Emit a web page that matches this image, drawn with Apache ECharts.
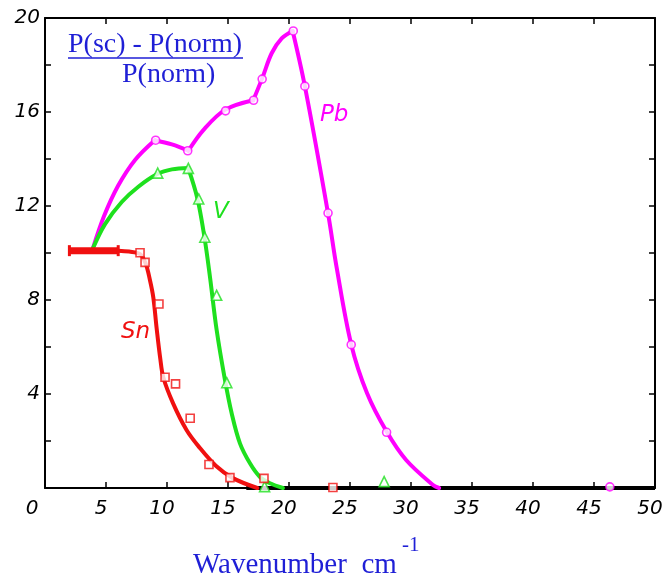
<!DOCTYPE html>
<html><head><meta charset="utf-8">
<script src="https://cdn.jsdelivr.net/npm/echarts@6.0.0/dist/echarts.min.js"></script>
<style>html,body{margin:0;padding:0;background:#fff}#c{width:668px;height:584px}</style>
</head><body><div id="c"></div>
<script>
// ---- data ----
const xTickLabels = [0,5,10,15,20,25,30,35,40,45,50];
const yTickLabels = [4,8,12,16,20];

// Pb (magenta, circles) - drawn curve, split at its corners
const pbCurveA = [[3.93,10.2],[4.84,11.57],[5.98,12.85],[7.38,13.96],[9.0,14.8]];
const pbCurveB = [[9.0,14.8],[10.4,14.62],[11.75,14.35]];
const pbCurveC = [[11.75,14.35],[12.98,15.23],[14.75,16.09],[17.07,16.5]];
const pbCurveD = [[17.07,16.5],[17.8,17.43],[18.58,18.5],[19.4,19.13],[20.3,19.45]];
const pbCurveE = [[20.3,19.45],[21.3,17.1],[23.2,11.69],[23.9,9.4],[25.1,6.11],[26.4,4.03],[28.0,2.4],[29.6,1.19],[31.8,0.13],[32.3,0]];
const pbPoints = [[9.07,14.8],[11.7,14.35],[14.8,16.05],[17.1,16.5],[17.8,17.4],[20.35,19.45],[21.3,17.1],[23.2,11.7],[25.1,6.1],[28.0,2.37],[31.1,-0.05],[46.3,0.05]];

// V (green, triangles)
const vCurveRise = [[3.93,10.2],[4.92,11.23],[6.29,12.17],[7.65,12.82],[9.24,13.37],[10.4,13.56],[11.74,13.62]];
const vCurveFall = [[11.74,13.62],[12.5,12.3],[13.06,10.7],[13.52,8.99],[14.07,6.72],[14.75,4.6],[15.3,3.18],[15.98,1.9],[16.8,1.05],[17.6,0.48],[18.44,0.2],[19.5,0]];
const vPoints = [[9.24,13.4],[11.75,13.6],[12.6,12.3],[13.1,10.67],[14.07,8.2],[14.9,4.48],[18.0,0.06],[27.8,0.27]];

// Sn (red, squares)
const snPlateau = [[2.0,10.1],[6.0,10.1]];
const snCurve = [[6.0,10.1],[6.9,10.06],[7.79,9.95],[8.25,9.55],[8.6,8.85],[8.88,8.1],[9.15,6.8],[9.45,5.5],[9.7,4.7],[10.5,3.6],[11.6,2.47],[12.7,1.7],[14.0,0.95],[15.4,0.42],[17.4,0]];
const snPoints = [[7.79,10.01],[8.2,9.6],[9.34,7.83],[9.84,4.71],[10.7,4.43],[11.9,2.97],[13.44,1.0],[15.16,0.44],[17.95,0.41],[23.6,0.02]];

const zeroBase = [[16.5,0],[50,0]];

const C_PB = '#ff00ff', C_V = '#1ee01e', C_SN = '#f01010', C_BLUE = '#1f1fd6';
const tickFont = {fontFamily:'DejaVu Sans', fontStyle:'italic', fontSize:20, color:'#000'};

const chart = echarts.init(document.getElementById('c'), null, {renderer:'canvas'});
function lineS(data, color) {
  return {type:'line', data, smooth:0.35, showSymbol:false, symbol:'none', z:2,
    lineStyle:{color, width:4, cap:'round', join:'round'}, silent:true};
}
function markS(data, color, sym, size) {
  return {type:'scatter', data, symbol:sym, symbolSize:size, z:5, silent:true,
    itemStyle:{color:'#fff', borderColor:color, borderWidth:1.6}};
}
chart.setOption({
  animation:false,
  backgroundColor:'#fff',
  grid:{left:45, right:13, top:18, bottom:96},
  xAxis:[
    {type:'value', min:0, max:50, interval:5, position:'bottom',
     axisLine:{onZero:false, lineStyle:{color:'#000', width:2}},
     axisTick:{inside:true, length:6, lineStyle:{color:'#000', width:1.5}},
     splitLine:{show:false},
     axisLabel:Object.assign({margin:11, padding:[0,10,0,0],
       formatter:v => xTickLabels.includes(v) ? (v === 0 ? '{z|0}' : String(v)) : '',
       rich:{z:{fontFamily:'DejaVu Sans', fontStyle:'italic', fontSize:20, color:'#000', padding:[0,16,0,0]}}}, tickFont)},
    {type:'value', min:0, max:50, interval:5, position:'top',
     axisLine:{onZero:false, lineStyle:{color:'#000', width:2}},
     axisTick:{inside:true, length:6, lineStyle:{color:'#000', width:1.5}},
     splitLine:{show:false}, axisLabel:{show:false}}
  ],
  yAxis:[
    {type:'value', min:0, max:20, interval:2, position:'left',
     axisLine:{onZero:false, lineStyle:{color:'#000', width:2}},
     axisTick:{inside:true, length:6, lineStyle:{color:'#000', width:1.5}},
     splitLine:{show:false},
     axisLabel:Object.assign({margin:5,
       formatter:v => yTickLabels.includes(v) ? String(v) : ''}, tickFont)},
    {type:'value', min:0, max:20, interval:2, position:'right',
     axisLine:{onZero:false, lineStyle:{color:'#000', width:2}},
     axisTick:{inside:true, length:6, lineStyle:{color:'#000', width:1.5}},
     splitLine:{show:false}, axisLabel:{show:false}}
  ],
  series:[
    {type:'line', data:zeroBase, symbol:'none', lineStyle:{color:'#000', width:4}, z:1, silent:true},
    lineS(pbCurveA, C_PB), lineS(pbCurveB, C_PB), lineS(pbCurveC, C_PB),
    lineS(pbCurveD, C_PB), lineS(pbCurveE, C_PB),
    lineS(vCurveRise, C_V), lineS(vCurveFall, C_V),
    lineS(snCurve, C_SN),
    {type:'line', data:snPlateau, symbol:'rect', symbolSize:[3,11], showSymbol:true, z:3, silent:true,
     lineStyle:{color:C_SN, width:7}, itemStyle:{color:C_SN}},
    markS(pbPoints, C_PB, 'circle', 8),
    markS(vPoints, C_V, 'triangle', 10),
    markS(snPoints, C_SN, 'rect', 8)
  ],
  graphic:[
    {type:'text', left:68, top:31, style:{text:'P(sc) - P(norm)', font:'28px "Liberation Serif"', fill:C_BLUE}},
    {type:'line', shape:{x1:68, y1:58, x2:243, y2:58}, style:{stroke:C_BLUE, lineWidth:1.5}},
    {type:'text', left:122, top:61, style:{text:'P(norm)', font:'28px "Liberation Serif"', fill:C_BLUE}},
    {type:'text', left:193, top:551, style:{text:'Wavenumber  cm', font:'29px "Liberation Serif"', fill:C_BLUE}},
    {type:'text', left:402, top:535, style:{text:'-1', font:'21px "Liberation Serif"', fill:C_BLUE}},
    {type:'text', left:320, top:104, style:{text:'Pb', font:'italic 23px "DejaVu Sans"', fill:C_PB}},
    {type:'text', left:213, top:201, style:{text:'V', font:'italic 23px "DejaVu Sans"', fill:C_V}},
    {type:'text', left:121, top:321, style:{text:'Sn', font:'italic 23px "DejaVu Sans"', fill:C_SN}}
  ]
});
</script>
</body></html>
